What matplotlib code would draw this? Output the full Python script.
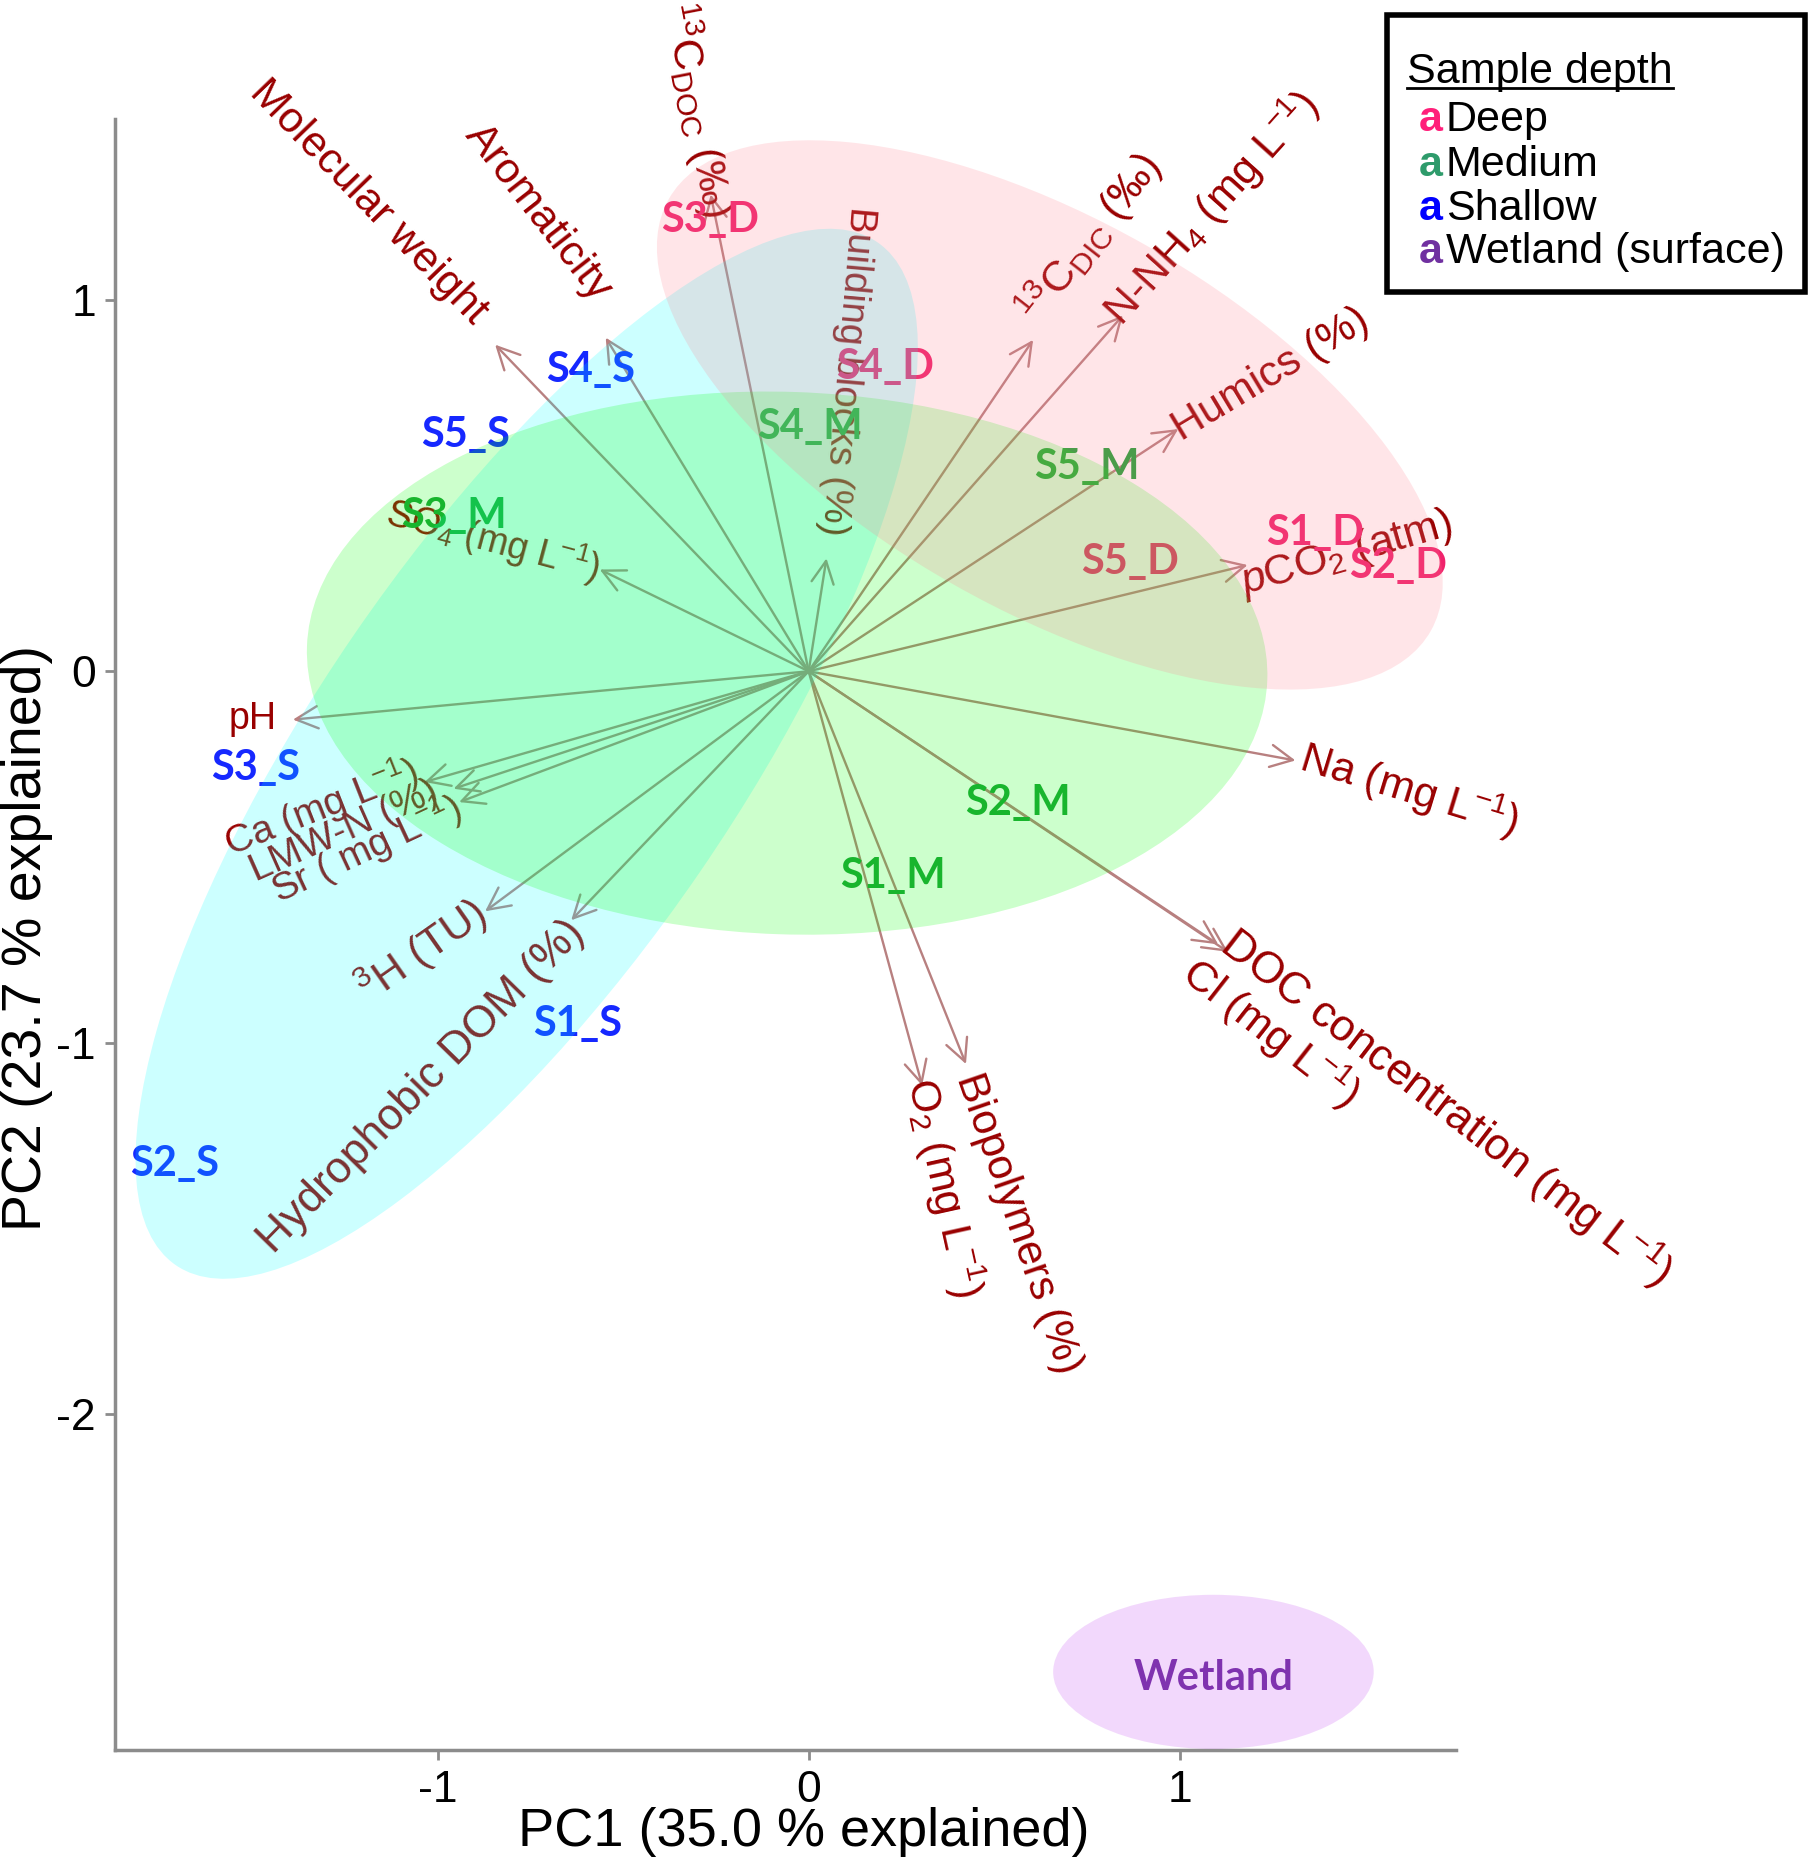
import matplotlib
matplotlib.use("Agg")
import matplotlib.pyplot as plt
from matplotlib.patches import Ellipse, Rectangle
from matplotlib.lines import Line2D

plt.rcParams['font.family'] = ['Liberation Sans', 'DejaVu Sans']
plt.rcParams['mathtext.fontset'] = 'custom'
plt.rcParams['mathtext.rm'] = 'Liberation Sans'
plt.rcParams['mathtext.it'] = 'Liberation Sans:italic'
plt.rcParams['mathtext.bf'] = 'Liberation Sans:bold'
plt.rcParams['axes.unicode_minus'] = False

# variable loadings (arrow tips on PC1 / PC2)
var_names = [
    "Molecular weight", "Aromaticity", r"$^{13}$C$_{\mathrm{DOC}}$ (‰)",
    "Building blocks (%)", r"SO$_4$ (mg L$^{-1}$)", r"$^{13}$C$_{\mathrm{DIC}}$ (‰)",
    r"N-NH$_4$ (mg L$^{-1}$)", "Humics (%)", r"$p$CO$_2$ (atm)",
    r"Na (mg L$^{-1}$)", r"DOC concentration (mg L$^{-1}$)", r"Cl (mg L$^{-1}$)",
    r"O$_2$ (mg L$^{-1}$)", "Biopolymers (%)", "pH",
    r"Ca (mg L$^{-1}$)", "LMW-N (%)", r"Sr ( mg L$^{-1}$)",
    r"$^{3}$H (TU)", "Hydrophobic DOM (%)",
]
var_pc1 = [-0.845, -0.547, -0.264, 0.048, -0.563, 0.605, 0.847, 0.996, 1.183, 1.312,
           1.130, 1.104, 0.306, 0.424, -1.390, -1.035, -0.957, -0.942, -0.872, -0.640]
var_pc2 = [0.879, 0.898, 1.283, 0.304, 0.274, 0.892, 0.958, 0.652, 0.286, -0.240,
           -0.755, -0.735, -1.115, -1.057, -0.130, -0.298, -0.316, -0.352, -0.646, -0.670]

# where each variable label sits, and its angle / size
lab_x = [-1.187, -0.730, -0.300, 0.103, -0.851, 0.758, 1.085, 1.245, 1.450, 1.619,
         1.718, 1.245, 0.365, 0.566, -1.498, -1.315, -1.251, -1.194, -1.043, -1.043]
lab_y = [1.262, 1.236, 1.512, 0.808, 0.351, 1.166, 1.246, 0.799, 0.316, -0.319,
         -1.173, -0.974, -1.390, -1.486, -0.128, -0.367, -0.431, -0.479, -0.751, -1.118]
lab_rot = [-46, -52, -79, -95, -15, 52, 48, 31, 16, -17,
           -37.5, -38, -77.5, -71, 0, 21.5, 24, 25, 35, 45.7]
lab_size = [31, 31, 31, 28, 27, 31, 31, 31, 31, 31,
            32, 31, 31, 31, 27, 28, 28, 28, 31, 32]

# sample scores
samples = ["S3_D", "S4_D", "S1_D", "S2_D", "S5_D",
           "S4_S", "S5_S", "S3_S", "S1_S", "S2_S",
           "S3_M", "S4_M", "S5_M", "S2_M", "S1_M", "Wetland"]
depth = ["Deep"] * 5 + ["Shallow"] * 5 + ["Medium"] * 5 + ["Wetland"]
pc1 = [-0.266, 0.205, 1.366, 1.590, 0.867,
       -0.589, -0.925, -1.491, -0.624, -1.709,
       -0.957, 0.003, 0.749, 0.563, 0.227, 1.091]
pc2 = [1.214, 0.818, 0.371, 0.284, 0.294,
       0.811, 0.636, -0.259, -0.949, -1.326,
       0.419, 0.658, 0.550, -0.355, -0.550, -2.709]

# group ellipses
ell_group = ["Shallow", "Medium", "Deep", "Wetland"]
ell_x = [-0.760, -0.058, 0.650, 1.091]
ell_y = [-0.222, 0.022, 0.690, -2.693]
ell_w = [3.34, 2.59, 2.36, 0.864]
ell_h = [1.13, 1.46, 1.05, 0.415]
ell_ang = [55.5, -2.0, -29.5, 0.0]

text_col = {"Deep": "#F0236C", "Medium": "#1FA339", "Shallow": "#1628FF", "Wetland": "#7030A0"}
fill_col = {"Deep": "#FF8090", "Medium": "#00FF00", "Shallow": "#00FFFF", "Wetland": "#C040F0"}
key_col = {"Deep": "#FF1F7A", "Medium": "#2E9B6B", "Shallow": "#0000FF", "Wetland": "#7030A0"}

fig = plt.figure(figsize=(18.09, 18.62), dpi=100)
ax = fig.add_axes([0.0637, 0.060, 0.741, 0.876])
ax.set_xlim(-1.869, 1.744)
ax.set_ylim(-2.904, 1.486)

# arrows
for x, y in zip(var_pc1, var_pc2):
    ax.annotate("", xy=(x, y), xytext=(0, 0),
                arrowprops=dict(arrowstyle="->", color="#B88080", lw=1.7,
                                mutation_scale=40, shrinkA=0, shrinkB=0),
                zorder=2)

for name, x, y, r, s in zip(var_names, lab_x, lab_y, lab_rot, lab_size):
    ax.text(x, y, name, color="#990000", fontsize=s, rotation=r,
            rotation_mode="anchor", ha="center", va="center", zorder=3)

for name, g, x, y in zip(samples, depth, pc1, pc2):
    ax.text(x, y, name, color=text_col[g], fontsize=30, fontweight="bold",
            family=["Lato", "DejaVu Sans"], ha="center", va="center", zorder=3)

# ellipses drawn on top, semi transparent
for g, x, y, w, h, a in zip(ell_group, ell_x, ell_y, ell_w, ell_h, ell_ang):
    ax.add_patch(Ellipse((x, y), w, h, angle=a, facecolor=fill_col[g],
                         edgecolor="none", alpha=0.2, zorder=5))

for side in ["top", "right"]:
    ax.spines[side].set_visible(False)
for side in ["left", "bottom"]:
    ax.spines[side].set_color("#8c8c8c")
    ax.spines[side].set_linewidth(2.5)

ax.set_xticks([-1, 0, 1])
ax.set_yticks([-2, -1, 0, 1])
ax.tick_params(axis="both", colors="#8c8c8c", length=7, width=2, labelsize=32,
               labelcolor="black", pad=7)

ax.set_xlabel("PC1 (35.0 % explained)", fontsize=39)
ax.set_ylabel("PC2 (23.7 % explained)", fontsize=40)
ax.xaxis.set_label_coords(0.514, -0.050)
ax.xaxis.label.set_va("center")
ax.yaxis.set_label_coords(-0.066, 0.498)
ax.yaxis.label.set_va("center")

# legend box
fig.patches.append(Rectangle((0.7667, 0.8432), 0.2311, 0.1485, transform=fig.transFigure,
                             facecolor="white", edgecolor="black", lw=4, zorder=10))
title = fig.text(0.778, 0.9554, "Sample depth", fontsize=31, va="baseline", zorder=11)
fig.canvas.draw()
bb = title.get_window_extent().transformed(fig.transFigure.inverted())
fig.lines.append(Line2D([bb.x0, bb.x1], [0.9525, 0.9525], transform=fig.transFigure,
                        color="black", lw=2, zorder=11))

leg_labels = ["Deep", "Medium", "Shallow", "Wetland (surface)"]
leg_keys = ["Deep", "Medium", "Shallow", "Wetland"]
leg_base = [0.9299, 0.9056, 0.882, 0.859]
for lab, k, yb in zip(leg_labels, leg_keys, leg_base):
    fig.text(0.7845, yb, "a", color=key_col[k], fontsize=31, fontweight="bold",
             va="baseline", zorder=11)
    fig.text(0.7993, yb, lab, fontsize=31, va="baseline", zorder=11)

fig.savefig("out.png", dpi=100)
